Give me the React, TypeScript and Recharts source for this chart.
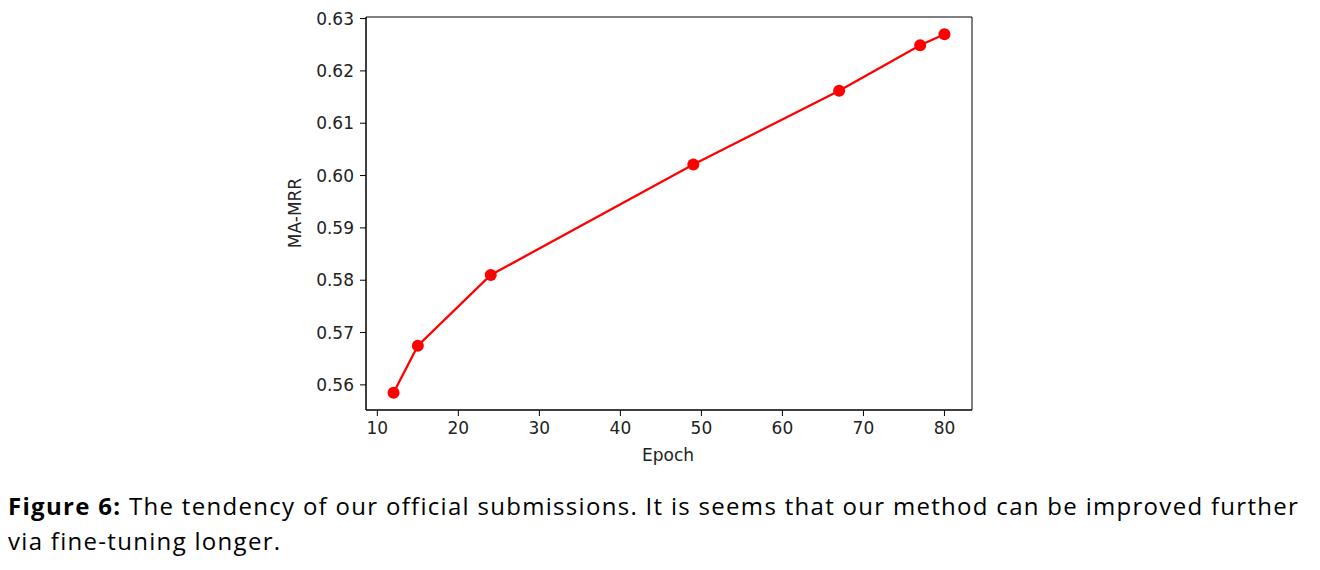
import React from "react";
import {
  LineChart,
  Line,
  XAxis,
  YAxis,
  ReferenceArea,
} from "recharts";

const epochs = [12, 15, 24, 49, 67, 77, 80];
const mrr = [0.5585, 0.5675, 0.581, 0.6021, 0.6162, 0.6249, 0.627];
const xTicks = [10, 20, 30, 40, 50, 60, 70, 80];
const yTicks = [0.56, 0.57, 0.58, 0.59, 0.6, 0.61, 0.62, 0.63];
const xDomain = [8.6, 83.4];
const yDomain = [0.5552, 0.6303];

const data = epochs.map((epoch, i) => ({ epoch, mrr: mrr[i] }));

const tickStyle = { fill: "#222", fontSize: 17, fontFamily: "DejaVu Sans" };

export default function App() {
  return (
    <div
      style={{
        position: "absolute",
        left: 0,
        top: 0,
        width: 1320,
        height: 570,
        background: "#fff",
      }}
    >
      <LineChart
        width={1320}
        height={470}
        data={data}
        margin={{ top: 17, right: 348, bottom: 10, left: 276 }}
      >
        <XAxis
          type="number"
          dataKey="epoch"
          domain={xDomain}
          allowDataOverflow
          ticks={xTicks}
          interval={0}
          height={50}
          tickSize={6}
          tickMargin={6}
          tick={tickStyle}
          axisLine={{ stroke: "#000", strokeWidth: 1 }}
          tickLine={{ stroke: "#000" }}
        />
        <YAxis
          type="number"
          domain={yDomain}
          allowDataOverflow
          ticks={yTicks}
          interval={0}
          width={90}
          tickSize={6}
          tickMargin={6}
          tick={tickStyle}
          tickFormatter={(v: number) => v.toFixed(2)}
          axisLine={{ stroke: "#000", strokeWidth: 1 }}
          tickLine={{ stroke: "#000" }}
        />
        {/* matplotlib-style box around the plot */}
        <ReferenceArea
          x1={xDomain[0]}
          x2={xDomain[1]}
          y1={yDomain[0]}
          y2={yDomain[1]}
          fill="none"
          stroke="#000"
          strokeWidth={1}
          ifOverflow="visible"
        />
        <Line
          type="linear"
          dataKey="mrr"
          stroke="#ff0000"
          strokeWidth={2.3}
          dot={{ r: 6, fill: "#ff0000", stroke: "#ff0000", strokeWidth: 0 }}
          activeDot={false}
          isAnimationActive={false}
        />
      </LineChart>

      <div
        style={{
          position: "absolute",
          left: 668,
          top: 445,
          transform: "translateX(-50%)",
          fontFamily: "DejaVu Sans",
          fontSize: 17,
          color: "#222",
          lineHeight: "20px",
          whiteSpace: "nowrap",
        }}
      >
        Epoch
      </div>
      <div
        style={{
          position: "absolute",
          left: 295,
          top: 213,
          transform: "translate(-50%, -50%) rotate(-90deg)",
          fontFamily: "DejaVu Sans",
          fontSize: 17,
          color: "#222",
          lineHeight: "20px",
          whiteSpace: "nowrap",
        }}
      >
        MA-MRR
      </div>

      <div
        style={{
          position: "absolute",
          left: 8,
          top: 488,
          fontFamily: "Open Sans",
          fontSize: 24,
          letterSpacing: 1.3,
          lineHeight: "35px",
          color: "#000",
          whiteSpace: "nowrap",
        }}
      >
        <div>
          <b>Figure 6:</b> The tendency of our official submissions. It is seems
          that our method can be improved further
        </div>
        <div>via fine-tuning longer.</div>
      </div>
    </div>
  );
}
